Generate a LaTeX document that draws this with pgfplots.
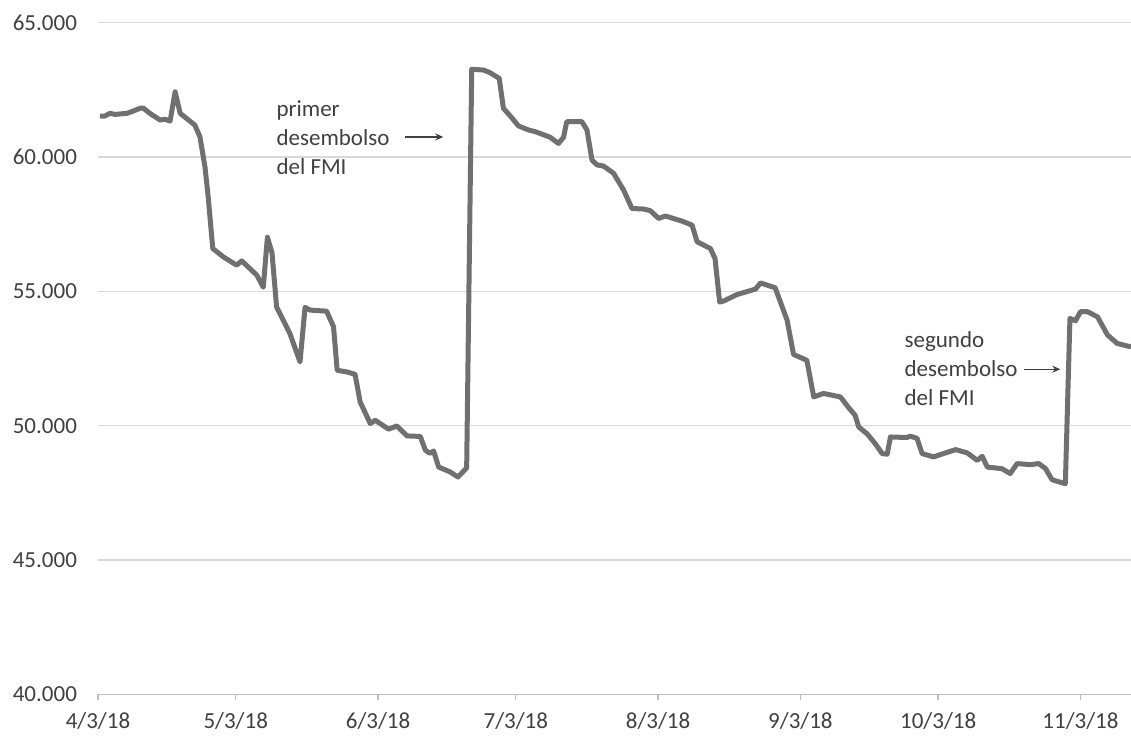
\documentclass[border=0pt]{standalone}
\usepackage{pgfplots}
\pgfplotsset{compat=1.18}
\usepackage{fontspec}
\setmainfont{Carlito}
\usetikzlibrary{arrows.meta}
\definecolor{linegray}{RGB}{112,112,112}
\definecolor{gridgray}{RGB}{217,217,217}
\definecolor{labelgray}{RGB}{64,64,64}
\definecolor{axisgray}{RGB}{191,191,191}
\begin{document}
\begin{tikzpicture}
	\begin{axis}[
		name=ax,
		scale only axis,
		width=516.5pt,
		height=336pt,
		xmin=0, xmax=225,
		ymin=40000, ymax=65000,
		scaled y ticks=false,
		axis lines*=left,
		y axis line style={draw=none},
		x axis line style={axisgray,line width=0.7pt},
		ymajorgrids,
		grid style={gridgray,line width=0.7pt},
		tick align=outside,
		major tick length=3pt,
		ytick style={draw=none},
		xtick style={axisgray,line width=0.7pt},
		xtick={0,30,61,91,122,153,183,214},
		xticklabels={4/3/18,5/3/18,6/3/18,7/3/18,8/3/18,9/3/18,10/3/18,11/3/18},
		ytick={40000,45000,50000,55000,60000,65000},
		yticklabels={40.000,45.000,50.000,55.000,60.000,65.000},
		ticklabel style={font=\fontsize{11.5}{13.8}\selectfont,text=labelgray},
		yticklabel style={xshift=-4pt},
		xticklabel style={yshift=-2.5pt},
	]
		\addplot[linegray,line width=2.5pt,line join=round,no marks] table {
			x y
			0.4 61520
			1.5 61520
			2.6 61620
			3.7 61580
			6.3 61620
			7.3 61680
			9.2 61810
			9.9 61810
			11.3 61620
			13.5 61370
			14.6 61400
			15.7 61330
			16.8 62420
			17.9 61620
			19.3 61430
			21.1 61180
			22.2 60750
			23.3 59630
			24.0 58510
			25.0 56590
			27.3 56280
			30.2 55970
			31.3 56130
			34.6 55600
			36.0 55150
			36.9 57010
			37.9 56430
			38.9 54420
			41.8 53430
			44.0 52370
			45.1 54400
			46.2 54300
			49.8 54260
			51.3 53680
			52.1 52060
			54.2 52000
			56.0 51910
			57.1 50880
			59.3 50080
			60.4 50200
			63.3 49870
			65.1 49990
			67.3 49620
			70.2 49600
			71.3 49090
			72.3 48970
			73.1 49060
			74.2 48460
			76.7 48280
			78.4 48090
			80.3 48430
			81.4 63260
			84.0 63230
			85.4 63130
			87.4 62920
			88.3 61810
			89.8 61520
			91.6 61150
			93.8 61000
			95.2 60940
			98.5 60730
			100.3 60500
			101.4 60730
			102.1 61310
			105.4 61310
			106.5 61000
			107.6 59880
			108.7 59700
			110.1 59660
			112.3 59390
			114.5 58760
			116.3 58080
			118.8 58060
			120.3 58000
			122.1 57710
			123.6 57800
			127.2 57610
			129.4 57460
			130.5 56840
			133.4 56590
			134.4 56220
			135.4 54600
			136.3 54640
			139.2 54880
			143.2 55080
			144.3 55310
			147.5 55130
			150.1 53920
			151.5 52650
			154.4 52430
			155.9 51070
			158.0 51200
			161.7 51070
			163.5 50670
			164.9 50390
			165.7 49950
			167.5 49700
			169.3 49330
			170.8 48960
			171.9 48940
			172.6 49580
			176.2 49560
			176.9 49610
			178.4 49530
			179.5 48960
			182.0 48840
			186.8 49110
			189.3 48990
			191.5 48710
			192.6 48860
			193.7 48460
			196.9 48400
			198.7 48220
			200.2 48590
			203.1 48550
			204.9 48590
			206.4 48400
			207.8 47990
			210.7 47840
			211.7 53990
			212.9 53900
			214.0 54240
			215.5 54240
			217.7 54050
			219.9 53370
			222.0 53060
			225.0 52930
		};
		\node[anchor=west,align=left,inner sep=0pt,text=labelgray,
			font=\fontsize{11.5}{14.5}\selectfont]
			at (axis cs:38.8,60700) {primer\\desembolso\\del FMI};
		\draw[-{Stealth[length=4pt,width=3.5pt]},labelgray,line width=0.6pt]
			(axis cs:66.9,60740) -- (axis cs:75.2,60740);
		\node[anchor=west,align=left,inner sep=0pt,text=labelgray,
			font=\fontsize{11.5}{14.5}\selectfont]
			at (axis cs:175.6,52140) {segundo\\desembolso\\del FMI};
		\draw[-{Stealth[length=4pt,width=3.5pt]},labelgray,line width=0.6pt]
			(axis cs:201.8,52100) -- (axis cs:209.6,52100);
	\end{axis}
	\pgfresetboundingbox
	\path ([shift={(-49pt,-20.5pt)}]ax.south west) rectangle ([shift={(0pt,11.25pt)}]ax.north east);
\end{tikzpicture}
\end{document}
